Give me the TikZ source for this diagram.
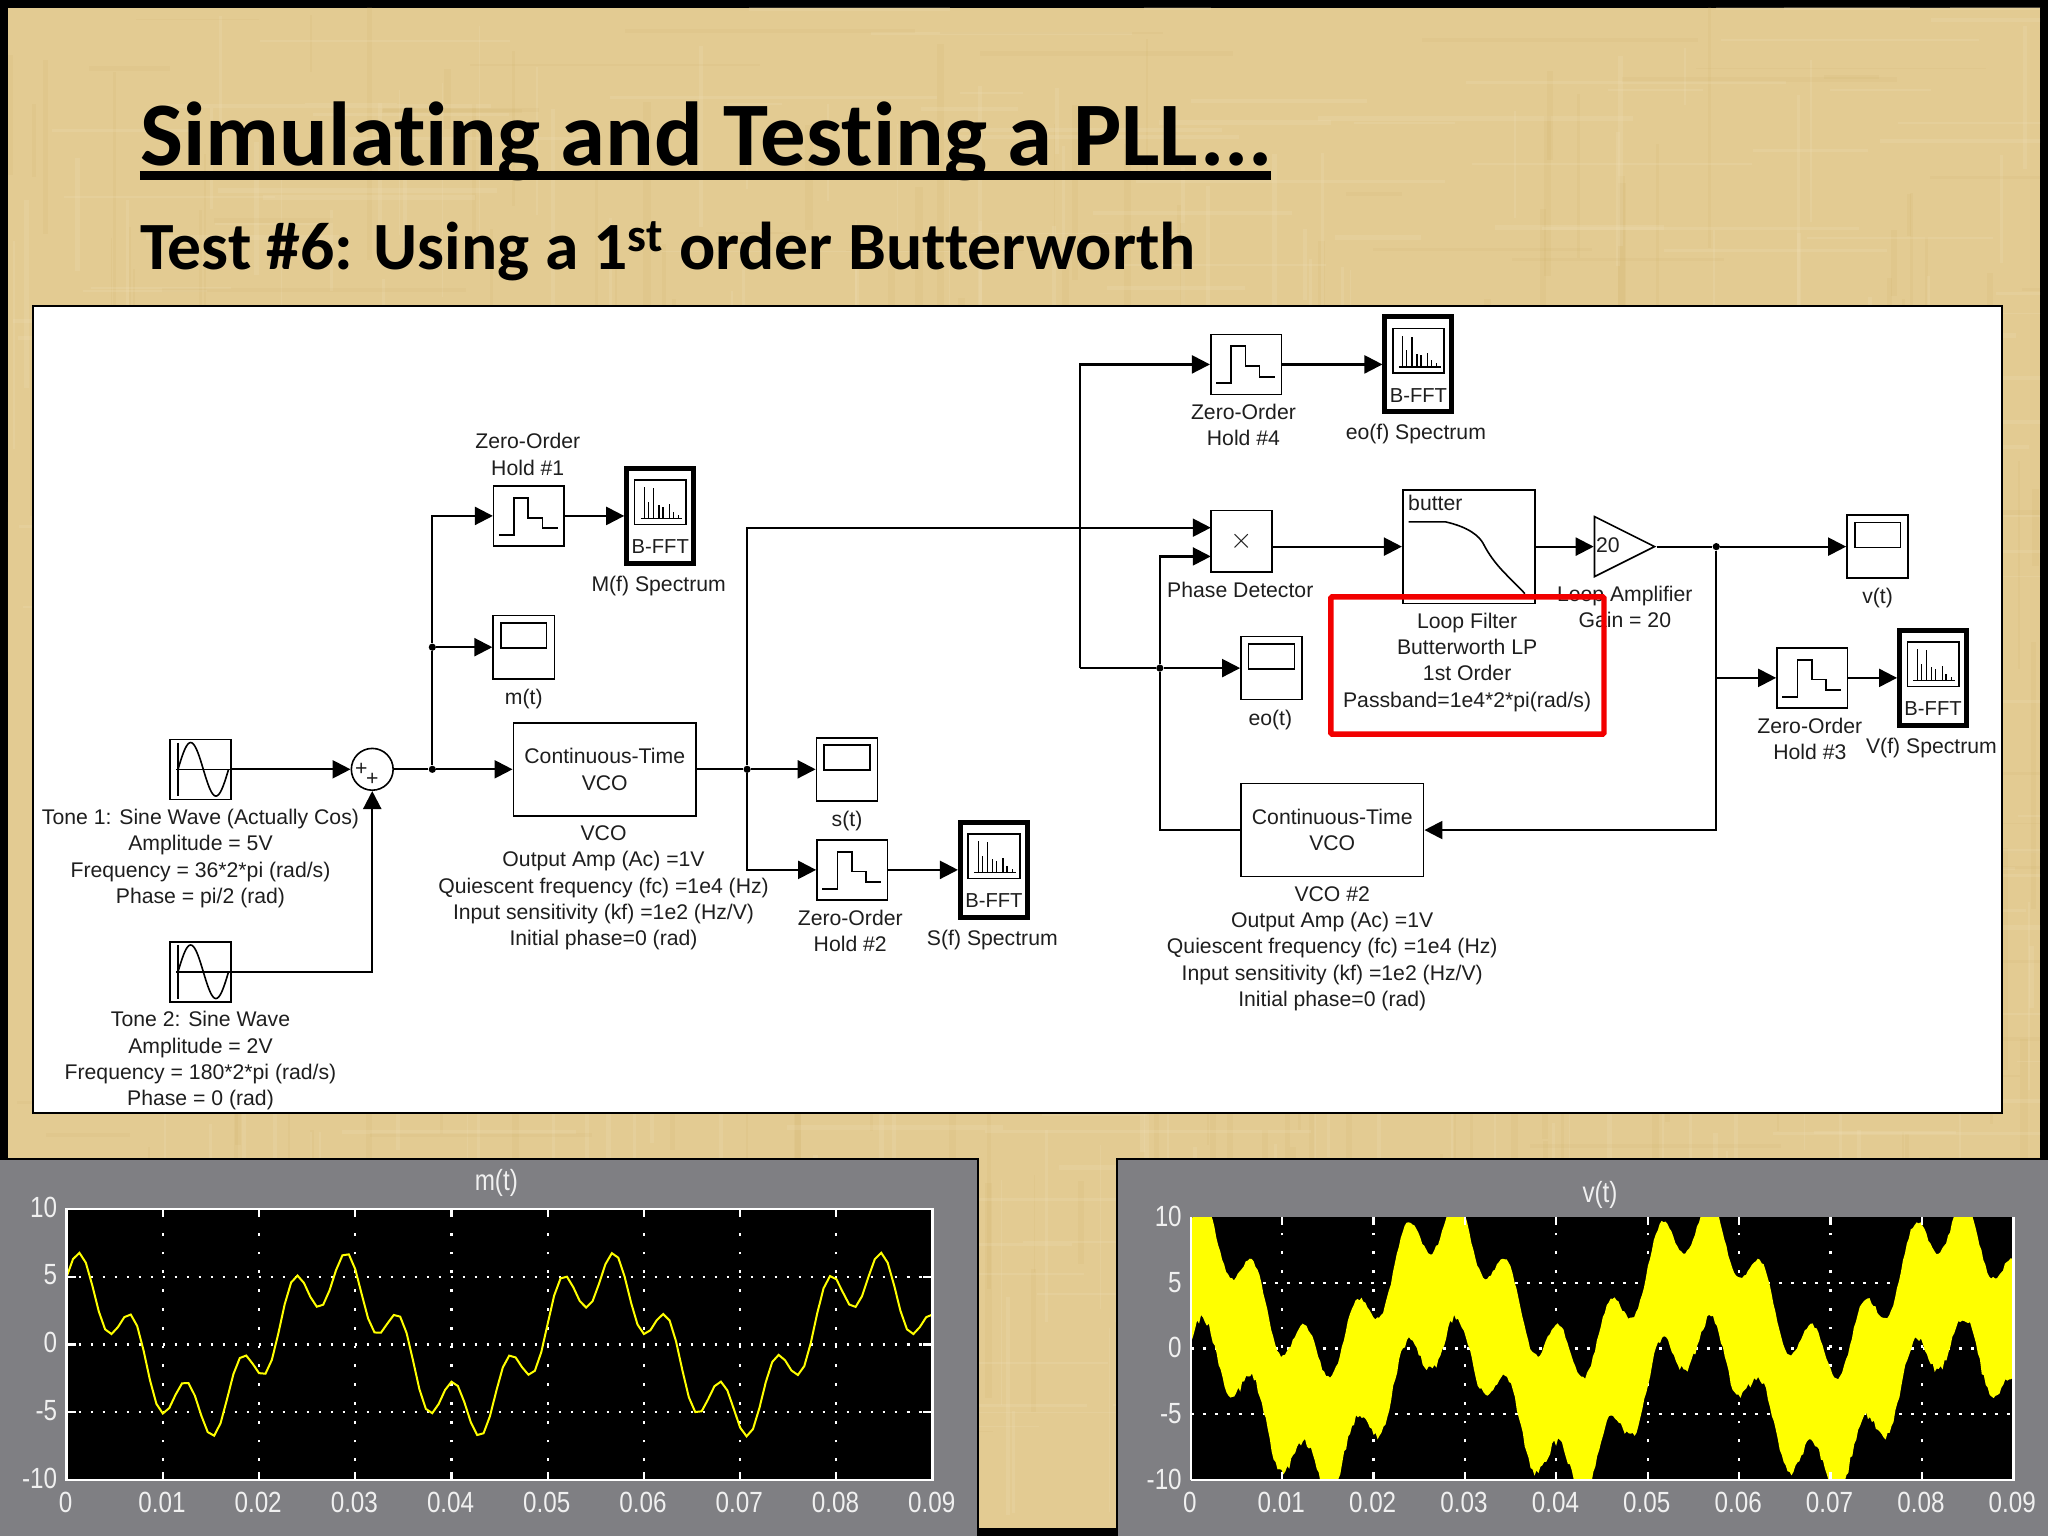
\documentclass[tikz,border=0pt]{standalone}
\usepackage{fontspec}
\setmainfont{Liberation Sans}
\newfontfamily\titlefont{Carlito}[Ligatures={NoCommon,TeX}]
\usepackage{xcolor}
\usetikzlibrary{arrows.meta,positioning,shapes.geometric}
\definecolor{parch}{HTML}{E3CB92}
\definecolor{parchdark}{HTML}{C9A95E}
\definecolor{parchlight}{HTML}{F4E6C2}
\definecolor{panelgray}{HTML}{7F7F83}
\definecolor{tracey}{HTML}{FFFF00}
\definecolor{inkgray}{HTML}{1E1E1E}
\newcommand{\blockfont}{\fontsize{10.6}{13.15}\selectfont}
\newcommand{\tickfont}{\fontsize{14.6}{16}\selectfont}

\begin{document}
\begin{tikzpicture}[
  x=0.653pt, y=-0.653pt,
  font=\blockfont, text=inkgray,
  blk/.style={draw, line width=0.8pt, fill=white, inner sep=0pt, align=center},
  arr/.style={-{Triangle[length=9pt,width=9pt]}, line width=1.1pt},
  wire/.style={line width=1.1pt},
  jdot/.style={circle, fill=black, inner sep=0pt, minimum size=3.6pt},
  lbl/.style={inner sep=0pt, align=center},
  tick/.style={inner sep=0pt, text=white!94!black, font=\tickfont, xscale=0.83},
  griddot/.style={white, line width=1.1pt},
  sinebox/.style={blk, minimum width=30.7pt, minimum height=30pt,
    path picture={
      \draw[shift={(path picture bounding box.center)}, line width=0.8pt] (-17.2,-20.5) -- (-17.2,20.5) (-18.5,0) -- (23,0);
      \draw[shift={(path picture bounding box.center)}, line width=0.8pt] plot[domain=0:360, samples=37, smooth] ({-17.2+\x*38.7/360},{-20.5*sin(\x)});
    }},
  zohbox/.style={blk, minimum width=35.3pt, minimum height=30pt,
    path picture={
      \draw[shift={(path picture bounding box.center)}, line width=0.9pt] (-23,14.5) -- (-11.3,14.5) -- (-11.3,-13.8) -- (-0.5,-13.8) -- (-0.5,1.3) -- (10.3,1.3) -- (10.3,9.5) -- (22,9.5);
    }},
  scopebox/.style={blk, minimum width=30.6pt, minimum height=31.6pt,
    path picture={
      \draw[shift={(path picture bounding box.center)}, line width=0.8pt] (-17.5,-18.5) rectangle (17.5,0.6);
    }},
  fftbox/.style={blk, line width=2.5pt, minimum width=33.5pt, minimum height=47.5pt,
    label={[yshift=-15.5pt, inner sep=0pt, font=\fontsize{10.1}{12}\selectfont]center:B-FFT},
    path picture={
      \draw[shift={(path picture bounding box.center)}, line width=0.8pt] (-19.7,-27.5) rectangle (19.7,6.6);
      \foreach \sx/\sy in {-12/-22, -9/-11, -5/-21, -1/-8, 2/-7, 7/-9, 10/-3, 14/-1}
        \draw[shift={(path picture bounding box.center)}, line width=0.7pt] (\sx,2) -- (\sx,\sy);
      \draw[shift={(path picture bounding box.center)}, line width=0.7pt] (-15,2) -- (17,2);
    }},
  filterbox/.style={blk, minimum width=66pt, minimum height=56.8pt,
    label={[xshift=-16.7pt, yshift=21.8pt, inner sep=0pt]center:butter},
    path picture={
      \draw[shift={(path picture bounding box.center)}, line width=0.8pt] (-46,-19) -- (-18,-19) .. controls (0,-15) and (8,-8) .. (11,-2.5) .. controls (20,15) and (30,22) .. (43,36);
    }},
  sumnode/.style={draw, circle, line width=0.8pt, fill=white, inner sep=0pt, minimum size=20.9pt,
    label={[xshift=-5.5pt, inner sep=0pt]center:+}, label={[yshift=-5.2pt, inner sep=0pt]center:+}},
  ampbox/.style={draw, isosceles triangle, isosceles triangle stretches, line width=0.8pt, fill=white,
    inner sep=0pt, minimum width=30pt, minimum height=30pt},
  redbox/.style={draw=red!95!black, line width=2.7pt, rounded corners=0.6pt, minimum width=136.5pt, minimum height=68.6pt, inner sep=0pt}
]
\useasboundingbox (0,0) rectangle (1568,1176);
\fill[black] (0,0) rectangle (1568,1176);
\fill[parch] (6,6) rectangle (1562,1170);

\begin{scope}
\clip (6,6) rectangle (1562,1170);
\pgfmathsetseed{4711}
\foreach \i in {1,...,260} {
  \pgfmathsetmacro{\sx}{rnd*1560}
  \pgfmathsetmacro{\sy}{rnd*1100}
  \pgfmathsetmacro{\sl}{30+rnd*200}
  \pgfmathsetmacro{\sw}{1+rnd*5}
  \fill[parchdark, opacity=0.11] (\sx,\sy) rectangle ++(\sw,\sl);
}
\foreach \i in {1,...,260} {
  \pgfmathsetmacro{\sx}{rnd*1560}
  \pgfmathsetmacro{\sy}{rnd*1100}
  \pgfmathsetmacro{\sl}{40+rnd*220}
  \pgfmathsetmacro{\sw}{0.8+rnd*3}
  \fill[parchlight, opacity=0.17] (\sx,\sy) rectangle ++(\sl,\sw);
}
\foreach \i in {1,...,260} {
  \pgfmathsetmacro{\sx}{rnd*1560}
  \pgfmathsetmacro{\sy}{rnd*1100}
  \pgfmathsetmacro{\sl}{40+rnd*160}
  \pgfmathsetmacro{\sw}{0.8+rnd*3}
  \fill[parchlight, opacity=0.17] (\sx,\sy) rectangle ++(\sw,\sl);
}
\foreach \i in {1,...,90} {
  \pgfmathsetmacro{\sx}{rnd*1560}
  \pgfmathsetmacro{\sy}{rnd*1100}
  \pgfmathsetmacro{\sl}{40+rnd*200}
  \pgfmathsetmacro{\sw}{1+rnd*3}
  \fill[parchdark, opacity=0.09] (\sx,\sy) rectangle ++(\sl,\sw);
}
\end{scope}

\node[font=\titlefont\bfseries\fontsize{45.4}{50}\selectfont, text=black, anchor=base west, inner sep=0pt] (title) at (107,126.5) {Simulating and Testing a PLL...};
\draw[line width=4.3pt] (107,134.5) -- (973,134.5);
\node[font=\titlefont\bfseries\fontsize{33.8}{40}\selectfont, text=black, anchor=base west, inner sep=0pt] (subtitle) at (107,206) {Test \#6: Using a 1\textsuperscript{st} order Butterworth};

\draw[fill=white, line width=1pt] (25,234) rectangle (1533,852);

\node[sinebox] (sineA) at (153.5,589) {};
\node[lbl, below=4.4pt of sineA] (sineAlab) {Tone 1: Sine Wave (Actually Cos)\\Amplitude = 5V\\Frequency = 36*2*pi (rad/s)\\Phase = pi/2 (rad)};
\node[sinebox] (sineB) at (153.5,744) {};
\node[lbl, below=4.2pt of sineB] (sineBlab) {Tone 2: Sine Wave\\Amplitude = 2V\\Frequency = 180*2*pi (rad/s)\\Phase = 0 (rad)};
\node[sumnode] (sum) at (285,589) {};
\node[jdot] (jmain) at (331,589) {};
\node[jdot] (jscope) at (331,495.5) {};

\node[zohbox] (zohA) at (405,395) {};
\node[lbl, above=4.7pt of zohA, xshift=-0.6pt] (zohAlab) {Zero-Order\\Hold \#1};
\node[fftbox] (fftM) at (505.5,395) {};
\node[lbl, below=4.7pt of fftM, xshift=-0.8pt] (fftMlab) {M(f) Spectrum};
\node[scopebox] (scopeM) at (401,495.5) {};
\node[lbl, below=4.5pt of scopeM] (scopeMlab) {m(t)};

\node[blk, minimum width=91.4pt, minimum height=46.4pt] (vcoA) at (463,589) {Continuous-Time\\VCO};
\node[lbl, below=4.4pt of vcoA, xshift=-0.6pt] (vcoAlab) {VCO\\Output Amp (Ac) =1V\\Quiescent frequency (fc) =1e4 (Hz)\\Input sensitivity (kf) =1e2 (Hz/V)\\Initial phase=0 (rad)};
\node[jdot] (jvco) at (572,589) {};
\node[scopebox] (scopeS) at (648.5,589) {};
\node[lbl, below=4.5pt of scopeS] (scopeSlab) {s(t)};
\node[zohbox] (zohB) at (652.5,666) {};
\node[lbl, below=4.6pt of zohB, xshift=-1pt] (zohBlab) {Zero-Order\\Hold \#2};
\node[fftbox] (fftS) at (761,666) {};
\node[lbl, below=4.7pt of fftS, xshift=-0.8pt] (fftSlab) {S(f) Spectrum};

\node[zohbox] (zohD) at (954,279) {};
\node[lbl, below=4.3pt of zohD, xshift=-1.3pt] (zohDlab) {Zero-Order\\Hold \#4};
\node[fftbox] (fftE) at (1086,279) {};
\node[lbl, below=4.5pt of fftE, xshift=-1.3pt] (fftElab) {eo(f) Spectrum};

\node[blk, minimum width=30.7pt, minimum height=30.7pt, font=\fontsize{15}{16}\selectfont] (pd) at (950.5,414.5) {$\times$};
\node[lbl, below=4.5pt of pd, xshift=-0.6pt] (pdlab) {Phase Detector};
\coordinate (pdinA) at (927,404);
\coordinate (pdinB) at (927,426);
\node[filterbox] (filt) at (1124.5,418.5) {};
\node[lbl, below=4.1pt of filt, xshift=-0.8pt] (filtlab) {Loop Filter\\Butterworth LP\\1st Order\\Passband=1e4*2*pi(rad/s)};
\node[ampbox] (amp) at (1235,418.5) {};
\node[lbl] (amptxt) at (1231,417.5) {20};
\node[lbl] (amplab) at (1244,464.5) {Loop Amplifier\\Gain = 20};
\node[jdot] (jamp) at (1314,418.5) {};
\node[scopebox] (scopeV) at (1437.5,418.5) {};
\node[lbl, below=4.5pt of scopeV] (scopeVlab) {v(t)};
\node[zohbox] (zohC) at (1387.5,519) {};
\node[lbl, below=4.3pt of zohC, xshift=-1.2pt] (zohClab) {Zero-Order\\Hold \#3};
\node[fftbox] (fftV) at (1480,519) {};
\node[lbl, below=4.8pt of fftV, xshift=-0.8pt] (fftVlab) {V(f) Spectrum};
\node[jdot] (jerr) at (888,511.5) {};
\coordinate (jback) at (827,511.5);
\node[scopebox] (scopeE) at (973.5,511.5) {};
\node[lbl, below=4.5pt of scopeE, xshift=-0.6pt] (scopeElab) {eo(t)};
\node[blk, minimum width=91.4pt, minimum height=46.4pt] (vcoB) at (1020,635.5) {Continuous-Time\\VCO};
\node[lbl, below=4.4pt of vcoB] (vcoBlab) {VCO \#2\\Output Amp (Ac) =1V\\Quiescent frequency (fc) =1e4 (Hz)\\Input sensitivity (kf) =1e2 (Hz/V)\\Initial phase=0 (rad)};

\draw[arr] (sineA) -- (sum);
\draw[arr] (sineB) -| (sum);
\draw[wire] (sum) -- (jmain);
\draw[arr] (jmain) -- (vcoA);
\draw[wire] (jmain) -- (jscope);
\draw[arr] (jscope) -- (scopeM);
\draw[arr] (jscope) |- (zohA);
\draw[arr] (zohA) -- (fftM);
\draw[wire] (vcoA) -- (jvco);
\draw[arr] (jvco) -- (scopeS);
\draw[arr] (jvco) |- (zohB);
\draw[arr] (zohB) -- (fftS);
\draw[arr] (jvco) |- (pdinA);
\draw[arr] (jerr) |- (pdinB);
\draw[arr] (jerr) -- (scopeE);
\draw[arr] (jback) |- (zohD);
\draw[wire] (jerr) -- (jback);
\draw[arr] (zohD) -- (fftE);
\draw[arr] (pd.east |- filt) -- (filt);
\draw[arr] (filt) -- (amp);
\draw[wire] (amp.apex) -- (jamp);
\draw[arr] (jamp) -- (scopeV);
\draw[arr] (jamp) |- (zohC);
\draw[arr] (zohC) -- (fftV);
\draw[arr] (jamp) |- (vcoB);
\draw[wire] (jerr) |- (vcoB);

\node[redbox] (redmark) at (1123.5,509.5) {};

\fill[panelgray, draw=black, line width=1pt] (-3,887.5) rectangle (748.5,1180);
\fill[panelgray, draw=black, line width=1pt] (855,887.5) rectangle (1572,1180);

\node[tick] (titleM) at (380,906) {m(t)};
\foreach \v/\t in {10/10, 5/5, 0/0, -5/-5, -10/-10}
  \node[tick, anchor=east] (ytM\t) at (44,{1027.9-\v*10.37}) {\t};
\foreach \v/\t in {0/0, 1/0.01, 2/0.02, 3/0.03, 4/0.04, 5/0.05, 6/0.06, 7/0.07, 8/0.08, 9/0.09}
  \node[tick] (xtM\v) at ({50.3+\v*73.67},1150) {\t};
\begin{scope}[shift={(51,1029.4)}, xscale=73.67, yscale=-10.37]
\fill[black] (0,-10) rectangle (9,10);
\foreach \v in {1,...,8}
  \draw[griddot, dash pattern=on 1.4pt off 8pt] (\v,-10) -- (\v,10);
\foreach \v in {-5,0,5}
  \draw[griddot, dash pattern=on 1.4pt off 4.6pt] (0,\v) -- (9,\v);
\foreach \v in {1,...,8}
  \draw[griddot] (\v,-10) -- (\v,-9.4) (\v,10) -- (\v,9.4);
\foreach \v in {-5,0,5}
  \draw[griddot] (0,\v) -- (0.1,\v) (9,\v) -- (8.9,\v);
\draw[tracey, line width=1pt] plot[domain=0:9, samples=136] (\x,{5*cos(129.6*\x)+2*sin(648*\x)});
\draw[white, line width=1.3pt] (0,-10) rectangle (9,10);
\end{scope}

\node[tick] (titleV) at (1225,915) {v(t)};
\foreach \v/\t in {10/10, 5/5, 0/0, -5/-5, -10/-10}
  \node[tick, anchor=east] (ytV\t) at (905,{1032-\v*10.05}) {\t};
\foreach \v/\t in {0/0, 1/0.01, 2/0.02, 3/0.03, 4/0.04, 5/0.05, 6/0.06, 7/0.07, 8/0.08, 9/0.09}
  \node[tick] (xtV\v) at ({911+\v*69.96},1150) {\t};
\begin{scope}[shift={(911.7,1032.5)}, xscale=69.96, yscale=-10.05]
\fill[black] (0,-10) rectangle (9,10);
\foreach \v in {1,...,8}
  \draw[griddot, dash pattern=on 1.4pt off 8pt] (\v,-10) -- (\v,10);
\foreach \v in {-5,0,5}
  \draw[griddot, dash pattern=on 1.4pt off 4.6pt] (0,\v) -- (9,\v);
\begin{scope}
\clip (0,-10) rectangle (9,10);
\pgfmathsetseed{907}
\fill[tracey] plot[domain=0:9, samples=420] (\x,{5*cos(129.6*\x)+2*sin(648*\x)+4.4+0.3*rnd})
  -- plot[domain=9:0, samples=420] (\x,{5*cos(129.6*\x)+2*sin(648*\x)-4.1-0.6*rnd}) -- cycle;
\end{scope}
\foreach \v in {1,...,8}
  \draw[griddot] (\v,-10) -- (\v,-9.4) (\v,10) -- (\v,9.4);
\draw[white, line width=1.3pt] (0,-10) -- (9,-10) -- (9,10) (0,-10) -- (0,10);
\end{scope}
\end{tikzpicture}
\end{document}
